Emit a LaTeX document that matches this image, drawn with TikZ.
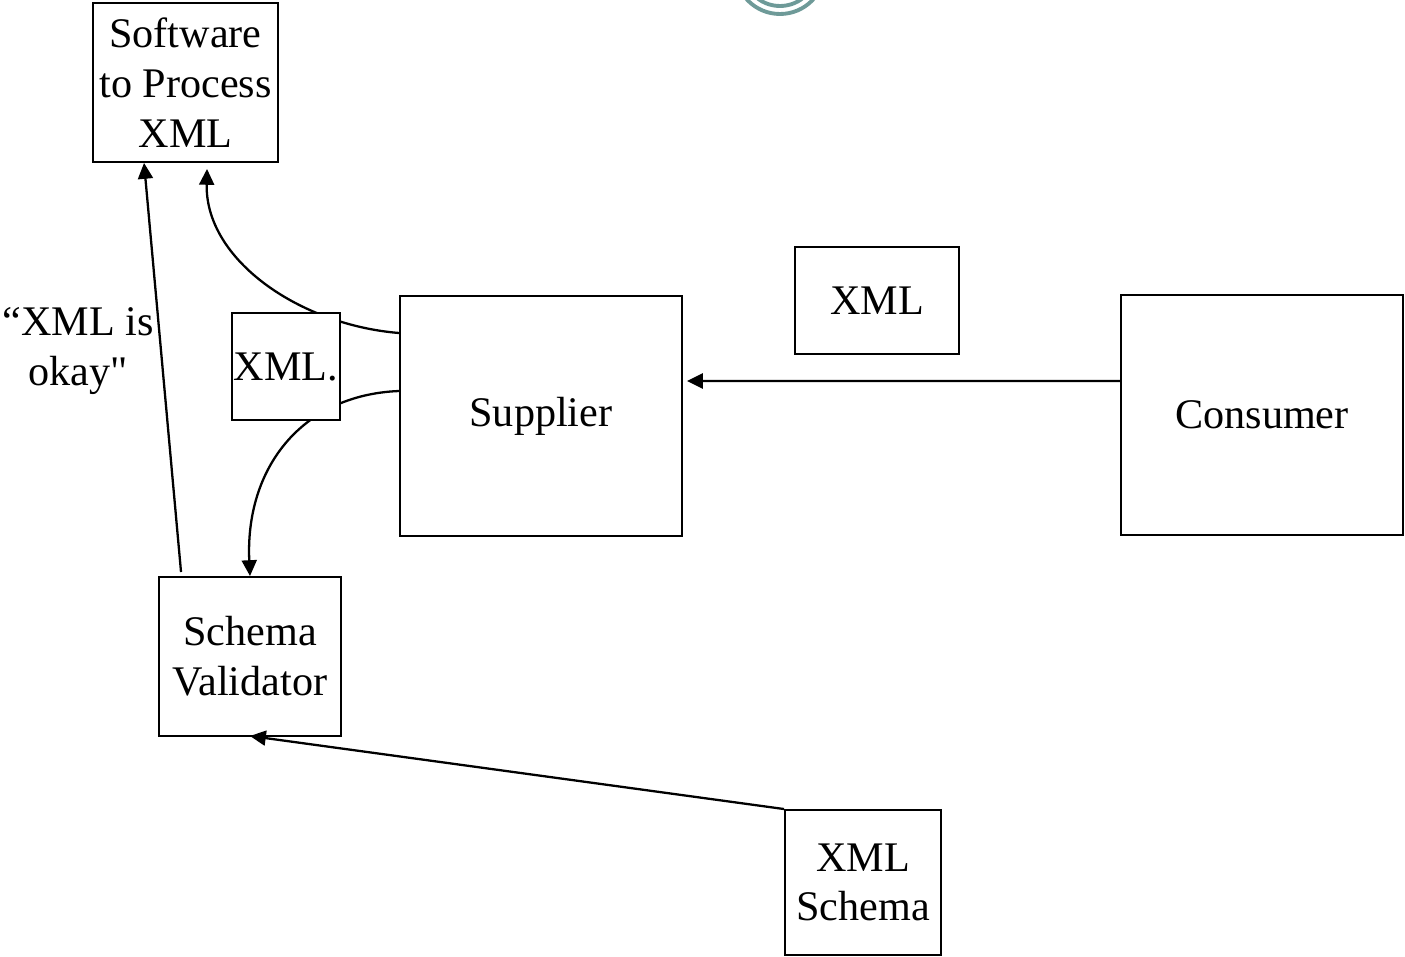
\documentclass[tikz,border=0pt]{standalone}
\usepackage{fontspec}
\setmainfont{Liberation Serif}[Ligatures=TeXOff]
\usetikzlibrary{arrows.meta}
\usetikzlibrary{positioning}
\usepackage{xcolor}
\definecolor{ringteal}{HTML}{6E9A98}

\begin{document}
\begin{tikzpicture}[every node/.style={font=\fontsize{24}{28.3}\selectfont},
		box/.style={draw, line width=1.1pt, fill=white, inner sep=0pt, align=center},
		arr/.style={-{Triangle[length=9pt,width=8.5pt]}, line width=1.3pt}]
				\useasboundingbox (0,0) rectangle (28.1,-19.14);

				% ring from the slide template
				\draw[ringteal, line width=2.2pt] (15.6,0.62) circle (0.9);
				\draw[ringteal, line width=2.2pt] (15.6,0.62) circle (0.74);

				\node[box, minimum width=3.7cm, minimum height=3.18cm] (sw) at (3.71,-1.65) {Software\\to Process\\XML};
				\node[box, minimum width=5.64cm, minimum height=4.8cm] (sup) at (10.82,-8.32) {\raisebox{-0.1cm}{Supplier}};
				\node[box, minimum width=3.28cm, minimum height=2.14cm] (msg) at (17.54,-6.01) {XML};
				\node[box, minimum width=5.64cm, minimum height=4.8cm] (con) at (25.24,-8.3) {Consumer};
				\node[box, minimum width=3.64cm, minimum height=3.18cm] (val) at (5.0,-13.13) {Schema\\Validator};
				\node[box, minimum width=3.12cm, minimum height=2.9cm] (xsd) at (17.26,-17.65) {XML\\Schema};
				\node[align=center] (okay) at (1.56,-7.02) {“XML is\\okay"};

				\draw[arr] ([yshift=0.68cm]con.west) -- ([xshift=0.08cm,yshift=0.7cm]sup.east);
				\draw[arr] (xsd.north west) -- ([yshift=0.02cm]val.south);
				\draw[arr] ([xshift=0.46cm,yshift=0.08cm]val.north west) -- ([xshift=1.04cm]sw.south west);

				\draw[arr] ([yshift=1.66cm]sup.west) .. controls (6.0,-6.5) and (4.1,-5.2) .. ([xshift=2.3cm,yshift=-0.12cm]sw.south west);
				\draw[arr] ([yshift=0.5cm]sup.west) .. controls (6.0,-7.9) and (4.9,-9.4) .. (val.north);

				\node[box, minimum width=2.16cm, minimum height=2.14cm] (doc) at (5.72,-7.33) {XML.};
			\end{tikzpicture}
\end{document}
